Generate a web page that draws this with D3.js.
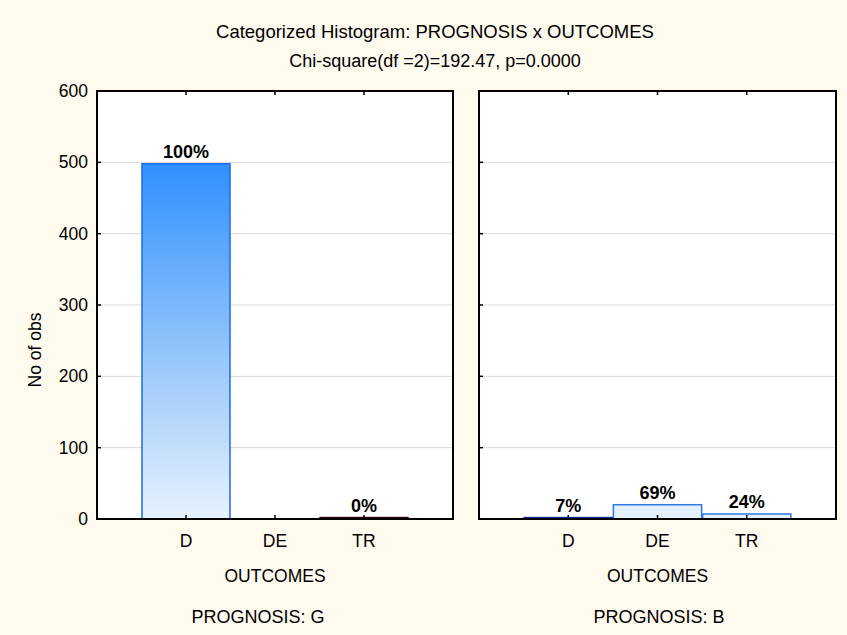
<!DOCTYPE html>
<html><head><meta charset="utf-8">
<script src="https://cdn.jsdelivr.net/npm/d3@7"></script>
<style>body{margin:0;background:#FEFAEE}svg{display:block}</style>
</head><body>
<svg id="c" width="847" height="635"></svg>
<script>
const categories = ["D", "DE", "TR"];
const panels = ["PROGNOSIS: G", "PROGNOSIS: B"];
const valuesG = [498, 0, 2];
const valuesB = [2, 20, 7];
const pctG = ["100%", "", "0%"];
const pctB = ["7%", "69%", "24%"];
const yTicks = [0, 100, 200, 300, 400, 500, 600];

(function () {
const svg = d3.select("#c");
const W = 847, H = 635;
svg.append("rect").attr("width", W).attr("height", H).attr("fill", "#FEFAEE");
const font = "'Liberation Sans', Arial, sans-serif";

svg.append("text").attr("x", 435).attr("y", 38).attr("text-anchor", "middle")
  .attr("font-family", font).attr("font-size", 18.5).text("Categorized Histogram: PROGNOSIS x OUTCOMES");
svg.append("text").attr("x", 435).attr("y", 67).attr("text-anchor", "middle")
  .attr("font-family", font).attr("font-size", 18).text("Chi-square(df =2)=192.47, p=0.0000");

const pTop = 91, pBottom = 519;
const y = d3.scaleLinear().domain([0, 600]).range([pBottom, pTop]);

const defs = svg.append("defs");
const grad = defs.append("linearGradient").attr("id", "g").attr("gradientUnits", "userSpaceOnUse")
  .attr("x1", 0).attr("x2", 0).attr("y1", y(0)).attr("y2", y(500));
grad.append("stop").attr("offset", 0).attr("stop-color", "#E8F2FD");
grad.append("stop").attr("offset", 0.5).attr("stop-color", "#8EC2FB");
grad.append("stop").attr("offset", 1).attr("stop-color", "#2E90FF");

const panelDefs = [
  {x0: 97, x1: 453, vals: valuesG, pct: pctG, name: panels[0], nameX: 258, strokes: ["#1D6BE6", "#1D6BE6", "#2A0010"], axis: true},
  {x0: 479, x1: 836, vals: valuesB, pct: pctB, name: panels[1], nameX: 659, strokes: ["#0B2C9E", "#2F78E0", "#2F78E0"], axis: false}
];

panelDefs.forEach(p => {
  const g = svg.append("g");
  const x = d3.scalePoint().domain(["_a", ...categories, "_b"]).range([p.x0, p.x1]);
  const bw = x.step();
  const cx = c => x(c);
  g.append("rect").attr("x", p.x0).attr("y", pTop).attr("width", p.x1 - p.x0).attr("height", pBottom - pTop).attr("fill", "#fff");
  g.selectAll(".gr").data(yTicks.slice(1, -1)).join("line")
    .attr("x1", p.x0).attr("x2", p.x1).attr("y1", d => y(d)).attr("y2", d => y(d))
    .attr("stroke", "#D9D9D9").attr("stroke-width", 1);
  const data = categories.map((c, i) => ({c, v: p.vals[i], pct: p.pct[i], s: p.strokes[i]}));
  g.selectAll(".bar").data(data.filter(d => d.v > 0)).join("rect")
    .attr("x", d => cx(d.c) - bw / 2 + 0.5).attr("y", d => y(d.v))
    .attr("width", bw - 1).attr("height", d => y(0) - y(d.v))
    .attr("fill", "url(#g)").attr("stroke", d => d.s).attr("stroke-width", 1.5);
  g.selectAll(".pct").data(data.filter(d => d.pct)).join("text")
    .attr("x", d => cx(d.c)).attr("y", d => y(d.v) - 6).attr("text-anchor", "middle")
    .attr("font-family", font).attr("font-size", 18).attr("font-weight", "bold").text(d => d.pct);
  g.append("rect").attr("x", p.x0).attr("y", pTop).attr("width", p.x1 - p.x0).attr("height", pBottom - pTop)
    .attr("fill", "none").attr("stroke", "#000").attr("stroke-width", 2);
  categories.forEach(c => {
    g.append("line").attr("x1", cx(c)).attr("x2", cx(c)).attr("y1", pBottom).attr("y2", pBottom - 4).attr("stroke", "#000").attr("stroke-width", 1.5);
    g.append("line").attr("x1", cx(c)).attr("x2", cx(c)).attr("y1", pTop).attr("y2", pTop + 4).attr("stroke", "#000").attr("stroke-width", 1.5);
    g.append("text").attr("x", cx(c)).attr("y", 547).attr("text-anchor", "middle")
      .attr("font-family", font).attr("font-size", 17.5).text(c);
  });
  g.selectAll(".yt").data(yTicks.slice(1, -1)).join("line")
    .attr("x1", p.x0).attr("x2", p.x0 + 4).attr("y1", d => y(d)).attr("y2", d => y(d))
    .attr("stroke", "#000").attr("stroke-width", 1.5);
  if (p.axis) {
    g.selectAll(".yl").data(yTicks).join("text")
      .attr("x", p.x0 - 9).attr("y", d => y(d) + 6).attr("text-anchor", "end")
      .attr("font-family", font).attr("font-size", 17.5).text(d => d);
  }
  g.append("text").attr("x", (p.x0 + p.x1) / 2).attr("y", 582).attr("text-anchor", "middle")
    .attr("font-family", font).attr("font-size", 17.5).text("OUTCOMES");
  g.append("text").attr("x", p.nameX).attr("y", 623).attr("text-anchor", "middle")
    .attr("font-family", font).attr("font-size", 18).text(p.name);
});

svg.append("text").attr("transform", `translate(41,350) rotate(-90)`)
  .attr("text-anchor", "middle").attr("font-family", font).attr("font-size", 17.5).text("No of obs");
})();
</script>
</body></html>
